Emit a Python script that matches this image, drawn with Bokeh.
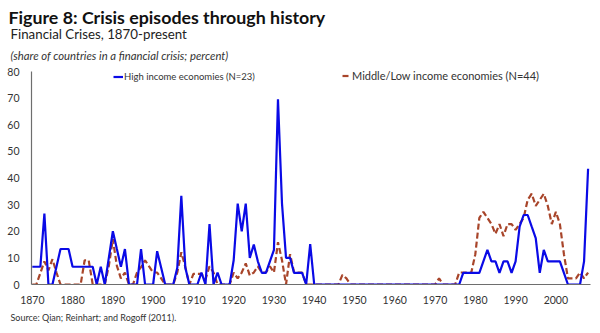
from bokeh.plotting import figure
from bokeh.models import Range1d, Title, Legend, LegendItem, ColumnDataSource, FixedTicker
from bokeh.embed import file_html
from bokeh.resources import INLINE

years = list(range(1870, 2009))

high_income = [
    6.67, 6.67, 6.67, 26.67, 0, 0, 6.67, 13.33, 13.33, 13.33,        # 1870-1879
    6.67, 6.67, 6.67, 6.67, 6.67, 6.67, 0, 6.67, 0, 10.0,            # 1880-1889
    20.0, 13.3, 6.67, 13.33, 0, 0, 0, 13.33, 0, 0,                   # 1890-1899
    0, 12.5, 6.25, 0, 0, 0, 6.25, 33.3, 6.25, 0,                     # 1900-1909
    0, 0, 4.5, 0, 22.7, 0, 4.5, 0, 0, 0,                             # 1910-1919
    9.1, 30.4, 20.0, 30.4, 10.0, 15.0, 8.7, 4.35, 4.35, 8.7,         # 1920-1929
    13.0, 69.6, 30.4, 10.0, 10.0, 4.35, 4.35, 4.35, 0, 15.2,         # 1930-1939
    0, 0, 0, 0, 0, 0, 0, 0, 0, 0,                                    # 1940-1949
    0, 0, 0, 0, 0, 0, 0, 0, 0, 0,                                    # 1950-1959
    0, 0, 0, 0, 0, 0, 0, 0, 0, 0,                                    # 1960-1969
    0, 0, 0, 0, 0, 0, 0, 4.35, 4.35, 4.35,                           # 1970-1979
    4.35, 4.35, 8.7, 13.0, 8.7, 8.7, 4.35, 8.7, 8.7, 4.35,           # 1980-1989
    8.7, 21.7, 26.1, 26.1, 21.7, 17.4, 4.35, 13.0, 8.7, 8.7,         # 1990-1999
    8.7, 8.7, 4.35, 0, 0, 0, 0, 8.7, 43.5,                           # 2000-2008
]

mid_low_income = [
    0, 0, 4.3, 8.7, 5.3, 9.5, 4.5, 0, 0, 0,                          # 1870-1879
    0, 0, 0, 9.1, 9.1, 0, 0, 0, 0, 7.0,                              # 1880-1889
    17.0, 7.0, 2.3, 4.5, 0, 0, 4.5, 6.5, 9.1, 6.8,                   # 1890-1899
    4.5, 4.5, 2.3, 0, 0, 0, 4.5, 12.1, 6.5, 0,                       # 1900-1909
    4.0, 4.0, 4.0, 2.0, 6.8, 4.5, 0, 0, 0, 0,                        # 1910-1919
    4.5, 2.3, 4.5, 7.9, 3.4, 4.5, 6.8, 4.5, 4.5, 6.8,                # 1920-1929
    4.5, 15.9, 9.1, 0, 11.4, 4.5, 4.5, 4.5, 0, 0,                    # 1930-1939
    0, 0, 0, 0, 0, 0, 0, 3.6, 2.3, 0,                                # 1940-1949
    0, 0, 0, 0, 0, 0, 0, 0, 0, 0,                                    # 1950-1959
    0, 0, 0, 0, 0, 0, 0, 0, 0, 0,                                    # 1960-1969
    0, 2.3, 0, 0, 0, 0, 4.5, 4.5, 4.5, 4.5,                          # 1970-1979
    11.4, 25.0, 27.3, 25.0, 22.7, 19.0, 22.7, 18.2, 22.7, 22.7,      # 1980-1989
    20.5, 22.7, 25.0, 31.8, 34.1, 29.5, 31.8, 34.1, 29.5, 22.7,      # 1990-1999
    27.3, 22.7, 11.4, 2.3, 2.3, 2.3, 4.5, 2.3, 4.5,                  # 2000-2008
]

x_ticks = list(range(1870, 2001, 10))
y_ticks = list(range(0, 81, 10))

series_names = ["High income economies (N=23)", "Middle/Low income economies (N=44)"]

src = ColumnDataSource(dict(year=years, high=high_income, midlow=mid_low_income))

FONT = "Lato"
FRAME_LEFT = 31
FRAME_BOTTOM = 284

p = figure(width=600, height=333, x_range=Range1d(1869.8, 2008.6), y_range=Range1d(0, 80),
           output_backend="svg", toolbar_location=None,
           min_border_left=FRAME_LEFT, min_border_right=10, min_border_top=71,
           min_border_bottom=333 - FRAME_BOTTOM)
p.title.visible = False
p.outline_line_color = None
p.xgrid.visible = False
p.ygrid.visible = False
p.background_fill_color = "white"
p.border_fill_color = "white"

r_mid = p.line("year", "midlow", source=src, line_color="#A8452A", line_width=2.2, line_dash="6 3")
r_high = p.line("year", "high", source=src, line_color="#0A0AE6", line_width=2.2)

for ax in (p.xaxis[0], p.yaxis[0]):
    ax.axis_line_color = "#6E6E6E"
    ax.axis_line_width = 1.2
    ax.major_tick_line_color = None
    ax.minor_tick_line_color = None
    ax.major_label_text_font = FONT
    ax.major_label_text_font_size = "10.5px"
    ax.major_label_text_color = "#333333"
p.xaxis[0].ticker = FixedTicker(ticks=x_ticks)
p.yaxis[0].ticker = FixedTicker(ticks=y_ticks)
p.xaxis[0].major_label_standoff = 5
p.yaxis[0].major_label_standoff = 6

leg1 = Legend(items=[LegendItem(label=series_names[0], renderers=[r_high])],
              location=(82, 202), glyph_width=10, glyph_height=11, label_height=11,
              label_standoff=1, padding=0, margin=0, border_line_color=None,
              background_fill_alpha=0, label_text_font=FONT, label_text_font_size="9.5px",
              label_text_color="#333333")
leg2 = Legend(items=[LegendItem(label=series_names[1], renderers=[r_mid])],
              location=(311, 202), glyph_width=9, glyph_height=11, label_height=11,
              label_standoff=1, padding=0, margin=0, border_line_color=None,
              background_fill_alpha=0, label_text_font=FONT, label_text_font_size="11px",
              label_text_color="#333333")
p.add_layout(leg1)
p.add_layout(leg2)

# titles stacked above the frame: first added sits nearest the frame
p.add_layout(Title(text="(share of countries in a financial crisis; percent)", align="left",
                   offset=-21, standoff=20, text_font=FONT, text_font_size="11.3px",
                   text_font_style="italic", text_color="#333333"), "above")
p.add_layout(Title(text="Financial Crises, 1870-present", align="left",
                   offset=-21, standoff=-11, text_font=FONT, text_font_size="13.3px",
                   text_font_style="normal", text_color="#222222"), "above")
p.add_layout(Title(text="Figure 8: Crisis episodes through history", align="left",
                   offset=-23, standoff=3, text_font=FONT, text_font_size="17.8px",
                   text_font_style="bold", text_color="#111111"), "above")
p.add_layout(Title(text="Source: Qian; Reinhart; and Rogoff (2011).", align="left",
                   offset=-21, standoff=6, text_font=FONT, text_font_size="9px",
                   text_font_style="normal", text_color="#333333"), "below")

open("out.html", "w").write(file_html(p, INLINE))
